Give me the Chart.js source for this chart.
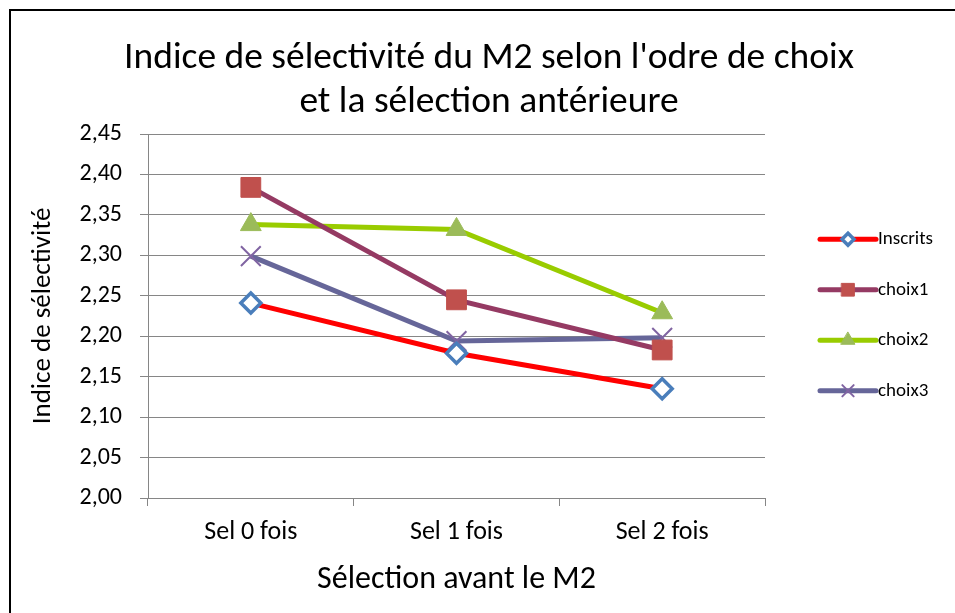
<!DOCTYPE html>
<html>
<head>
<meta charset="utf-8">
<script src="https://cdn.jsdelivr.net/npm/chart.js"></script>
<style>
  html, body { margin: 0; padding: 0; background: #fff; overflow: hidden; }
  #wrap { position: relative; width: 955px; height: 613px; overflow: hidden; }
  #frame { position: absolute; left: 9px; top: 9px; width: 1000px; height: 700px;
           border: 2px solid #000; pointer-events: none; }
</style>
</head>
<body>
<div id="wrap">
  <canvas id="myChart" width="955" height="613"></canvas>
  <div id="frame"></div>
</div>
<script>
const categories = ['Sel 0 fois', 'Sel 1 fois', 'Sel 2 fois'];
const inscrits = [2.241, 2.179, 2.135];
const choix1 = [2.384, 2.245, 2.183];
const choix2 = [2.338, 2.332, 2.229];
const choix3 = [2.299, 2.194, 2.198];
const seriesNames = ['Inscrits', 'choix1', 'choix2', 'choix3'];

const FONT = 'Carlito, Calibri, Lato, sans-serif';
const ctx = document.getElementById('myChart').getContext('2d');

// legend drawn by hand: line + marker like Excel
const excelLegend = {
  id: 'excelLegend',
  afterDraw(chart) {
    const c = chart.ctx;
    const area = chart.chartArea;
    const x0 = area.right + 55;
    const x1 = x0 + 56;
    const midY = (area.top + area.bottom) / 2;
    const step = 50.5;
    const legendRadius = [6, 9, 8, 8];
    chart.data.datasets.forEach((ds, i) => {
      const y = midY + (i - 1.5) * step - 1;
      c.save();
      c.strokeStyle = ds.borderColor;
      c.lineWidth = 5;
      c.lineCap = 'round';
      c.beginPath();
      c.moveTo(x0, y);
      c.lineTo(x1, y);
      c.stroke();
      c.fillStyle = ds.pointBackgroundColor;
      c.strokeStyle = ds.pointBorderColor;
      c.lineWidth = ds.pointBorderWidth;
      Chart.helpers.drawPoint(c, {
        pointStyle: ds.pointStyle,
        radius: legendRadius[i],
        rotation: 0,
        borderWidth: ds.pointBorderWidth
      }, (x0 + x1) / 2, y);
      c.fillStyle = '#000';
      c.font = '19px ' + FONT;
      c.textAlign = 'left';
      c.textBaseline = 'middle';
      c.fillText(ds.label, x1 + 2, y);
      c.restore();
    });
  }
};

let chart = new Chart(ctx, {
  type: 'line',
  data: {
    labels: categories,
    datasets: [{
      label: seriesNames[0],
      data: inscrits,
      borderColor: '#FF0000',
      borderWidth: 5,
      pointStyle: 'rectRot',
      pointRadius: 10,
      pointBackgroundColor: '#FFFFFF',
      pointBorderColor: '#4A7EBB',
      pointBorderWidth: 3.5
    }, {
      label: seriesNames[1],
      data: choix1,
      borderColor: '#953A63',
      borderWidth: 5,
      pointStyle: 'rect',
      pointRadius: 14,
      pointBackgroundColor: '#C0504D',
      pointBorderColor: '#C0504D',
      pointBorderWidth: 1
    }, {
      label: seriesNames[2],
      data: choix2,
      borderColor: '#99CC00',
      borderWidth: 5,
      pointStyle: 'triangle',
      pointRadius: 12,
      pointBackgroundColor: '#9BBB59',
      pointBorderColor: '#9BBB59',
      pointBorderWidth: 1
    }, {
      label: seriesNames[3],
      data: choix3,
      borderColor: '#666699',
      borderWidth: 5,
      pointStyle: 'crossRot',
      pointRadius: 14,
      pointBackgroundColor: '#8064A2',
      pointBorderColor: '#8064A2',
      pointBorderWidth: 2
    }]
  },
  options: {
    responsive: false,
    animation: false,
    layout: { padding: { top: 12, right: 0, bottom: 0, left: 23 } },
    plugins: {
      legend: { display: false },
      tooltip: { enabled: false },
      title: {
        display: true,
        text: ["Indice de sélectivité du M2 selon l'odre de choix", 'et la sélection antérieure'],
        color: '#000',
        font: { family: FONT, size: 37.5, weight: 'normal', lineHeight: 44 / 37.5 },
        padding: { top: 25, bottom: 9 }
      }
    },
    scales: {
      x: {
        offset: true,
        grid: { offset: true, drawOnChartArea: false, color: '#868686', tickLength: 8 },
        border: { color: '#868686' },
        ticks: { color: '#000', padding: 11, font: { family: FONT, size: 26 } },
        title: {
          display: true,
          text: 'Sélection avant le M2',
          color: '#000',
          font: { family: FONT, size: 32 },
          padding: { top: 0, bottom: 14 }
        },
        afterFit(scale) { scale.height = 115; }
      },
      y: {
        min: 2,
        max: 2.45,
        grid: { color: '#868686', tickLength: 8 },
        border: { color: '#868686' },
        ticks: {
          stepSize: 0.05,
          color: '#000',
          padding: 18,
          font: { family: FONT, size: 24 },
          callback: (v) => v.toFixed(2).replace('.', ',')
        },
        title: {
          display: true,
          text: 'Indice de sélectivité',
          color: '#000',
          font: { family: FONT, size: 27 },
          padding: { top: 4, bottom: 0 }
        },
        afterFit(scale) { scale.width = 125; }
      },
      // empty axis on the right that reserves the legend column
      legendSpace: {
        position: 'right',
        grid: { display: false },
        border: { display: false },
        ticks: { display: false },
        afterFit(scale) { scale.width = 190; }
      }
    }
  },
  plugins: [excelLegend]
});
</script>
</body>
</html>
